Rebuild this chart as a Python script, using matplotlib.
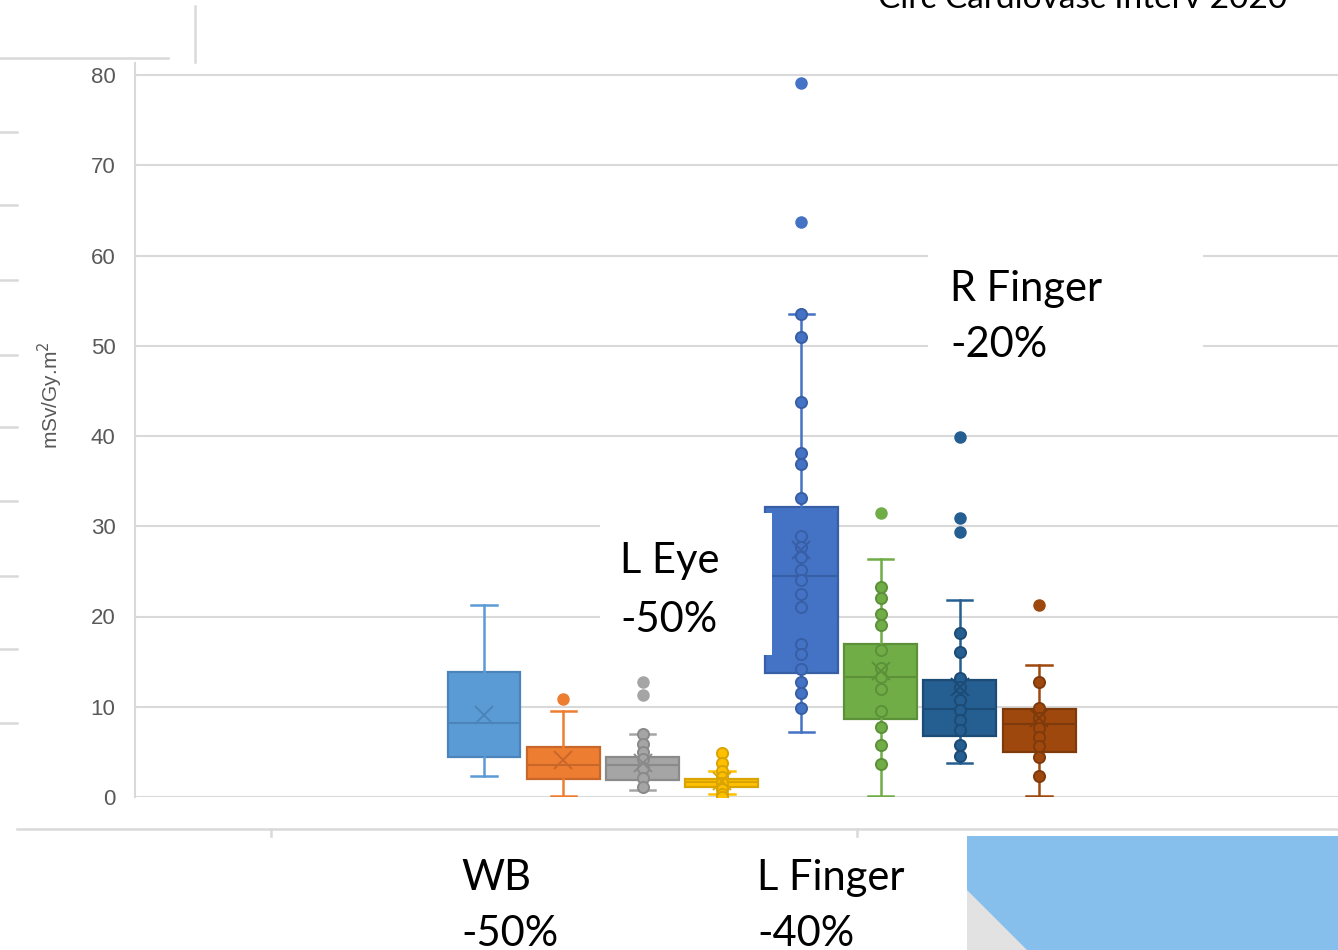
import matplotlib
matplotlib.use("Agg")
import matplotlib.pyplot as plt
from matplotlib.patches import Rectangle, Polygon
from matplotlib.lines import Line2D

plt.rcParams['font.family'] = ['Liberation Sans', 'DejaVu Sans']

# ─── Data (mSv/Gy.m²) ────────────────────────────────────────────────
colors = ['#5B9BD5', '#ED7D31', '#A5A5A5', '#FFC000',
          '#4472C4', '#70AD47', '#255E91', '#9E480E']
darks = ['#4A84BA', '#C9662A', '#8A8A8A', '#D9A300',
         '#375FA6', '#5C9139', '#1C4B75', '#7F3A0B']

whislo = [2.3, 0.1, 0.8, 0.3, 7.2, 0.1, 3.8, 0.1]
q1 = [4.4, 2.0, 1.9, 1.1, 13.7, 8.6, 6.8, 5.0]
med = [8.2, 3.5, 3.5, 1.7, 24.5, 13.3, 9.8, 8.1]
q3 = [13.8, 5.5, 4.4, 2.0, 32.1, 17.0, 13.0, 9.8]
whishi = [21.3, 9.5, 7.0, 2.9, 53.5, 26.4, 21.8, 14.6]
means = [9.1, 4.1, 3.8, 1.8, 27.4, 14.0, 12.2, 8.8]
outliers = [[], [10.9], [12.7, 11.3], [], [79.1, 63.7], [31.5],
            [39.9, 30.9, 29.4], [21.3]]
points = [
    [],
    [],
    [7.0, 5.9, 5.0, 4.2, 3.2, 2.1, 1.1],
    [4.9, 3.8, 2.9, 2.2, 1.5, 0.9, 0.3, 0.0],
    [53.5, 51.0, 43.8, 38.1, 36.9, 33.1, 28.9, 27.7, 26.6, 25.1, 24.0,
     22.5, 21.0, 16.9, 15.8, 14.2, 12.7, 11.5, 9.9],
    [23.3, 22.1, 20.3, 19.1, 16.3, 14.3, 13.3, 12.0, 9.5, 7.8, 5.8, 3.7],
    [18.2, 16.1, 13.2, 12.2, 10.7, 9.6, 8.5, 7.4, 5.8, 4.5],
    [12.7, 9.9, 8.8, 7.6, 6.7, 5.7, 4.4, 2.3],
]
yticks = [0, 10, 20, 30, 40, 50, 60, 70, 80]

W, H = 1338, 950
fig = plt.figure(figsize=(W / 100, H / 100), dpi=100)

def fx(px):
    return px / W

def fy(py):
    return 1 - py / H

# plot area: x from 135 px to the right edge, y=0 at 797 px, y=80 at 75 px
y_top = 80 + (75 - 63) / ((797 - 75) / 80)
ax = fig.add_axes([fx(135), fy(797), fx(W - 135), fy(63) - fy(797)])
ax.set_ylim(0, y_top)
step = 79.3
ax.set_xlim(1 - (484 - 135) / step, 1 + (W - 484) / step)

stats = []
for i in range(len(colors)):
    stats.append(dict(whislo=whislo[i], q1=q1[i], med=med[i], q3=q3[i],
                      whishi=whishi[i], mean=means[i], fliers=[]))

for i, st in enumerate(stats):
    c, d = colors[i], darks[i]
    pos = i + 1
    ax.bxp([st], positions=[pos], widths=0.92, capwidths=0.32,
           showmeans=False, showfliers=False, patch_artist=True,
           boxprops=dict(facecolor=c, edgecolor=d, lw=1.6),
           medianprops=dict(color=d, lw=1.5),
           whiskerprops=dict(color=c, lw=1.8),
           capprops=dict(color=c, lw=1.8), manage_ticks=False)
    pts = points[i]
    if pts:
        ax.plot([pos] * len(pts), pts, 'o', ms=8, mfc=c, mec=d, mew=1.4,
                zorder=3)
    if outliers[i]:
        ax.plot([pos] * len(outliers[i]), outliers[i], 'o', ms=8, mfc=c,
                mec=c, zorder=3)
    ax.plot([pos], [means[i]], 'x', ms=13, mew=1.4, color=d, zorder=4)

for sp in ['top', 'right', 'bottom']:
    ax.spines[sp].set_visible(False)
ax.spines['left'].set_color('#D9D9D9')
ax.spines['left'].set_linewidth(1.5)
ax.set_yticks(yticks)
ax.tick_params(axis='y', length=0, labelsize=16, labelcolor='#595959', pad=14)
ax.set_xticks([])
ax.yaxis.grid(True, color='#D9D9D9', lw=1.5)
ax.set_axisbelow(True)
fig.text(fx(50), fy(395), 'mSv/Gy.m$^2$', fontsize=15, color='#595959',
         rotation=90, ha='center', va='center')

# ─── Screenshot decoration around the chart ─────────────────────────
deco = dict(color='#D9D9D9', lw=1.8, transform=fig.transFigure)
fig.add_artist(Line2D([fx(0), fx(168)], [fy(58), fy(58)], **deco))
fig.add_artist(Line2D([fx(195), fx(195)], [fy(6), fy(62)], **deco))
for py in [132, 205, 280, 355, 427, 501, 576, 649, 723]:
    fig.add_artist(Line2D([fx(0), fx(17)], [fy(py), fy(py)], **deco))
fig.add_artist(Line2D([fx(17), fx(W)], [fy(829), fy(829)], **deco))
for px in [271, 857]:
    fig.add_artist(Line2D([fx(px), fx(px)], [fy(829), fy(836)], **deco))

# white text boxes that hide part of the chart
for x0, y0, x1, y1 in [(600, 513, 772, 655), (928, 240, 1203, 380)]:
    fig.add_artist(Rectangle((fx(x0), fy(y1)), fx(x1 - x0), fy(y0) - fy(y1),
                             transform=fig.transFigure, facecolor='white',
                             edgecolor='none', zorder=5))

# blue shape bottom right
fig.add_artist(Rectangle((fx(967), 0), fx(W - 967), fy(836),
                         transform=fig.transFigure, facecolor='#86BFEC',
                         edgecolor='none', zorder=5))
fig.add_artist(Polygon([(fx(967), fy(890)), (fx(1027), 0), (fx(967), 0)],
                       closed=True, transform=fig.transFigure,
                       facecolor='#E2E2E2', edgecolor='none', zorder=6))

txt = dict(fontsize=30, family=['Lato', 'DejaVu Sans'], color='black',
           va='baseline', ha='left', zorder=7)
labels = [(620, 573, 'L Eye'), (620, 632, '-50%'),
          (950, 301, 'R Finger'), (950, 357, '-20%'),
          (461, 890, 'WB'), (461, 946, '-50%'),
          (757, 890, 'L Finger'), (757, 946, '-40%')]
for px, py, s in labels:
    fig.text(fx(px), fy(py), s, **txt)

fig.text(fx(1287), fy(8), 'Circ Cardiovasc Interv 2020', fontsize=24,
         family=['Lato', 'DejaVu Sans'], ha='right', va='baseline')

fig.savefig('out.png', dpi=100)
